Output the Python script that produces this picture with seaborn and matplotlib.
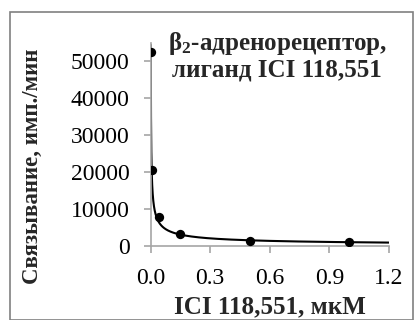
import numpy as np
import pandas as pd
import seaborn as sns
import matplotlib.pyplot as plt
from matplotlib.patches import Rectangle

# ******************
# data
# ******************
conc_um = [0.001, 0.005, 0.04, 0.15, 0.5, 1.0]
binding = [52500, 20500, 7900, 3150, 1400, 1050]

x_ticks = [0.0, 0.3, 0.6, 0.9, 1.2]
y_ticks = [0, 10000, 20000, 30000, 40000, 50000]

points = pd.DataFrame({'conc': conc_um, 'binding': binding})

# power trendline fitted to the points (as excel would draw it)
b, log_a = np.polyfit(np.log(points.conc), np.log(points.binding), 1)
x_fit = np.geomspace(points.conc.min(), 1.2, 400)
fit = pd.DataFrame({'conc': x_fit, 'binding': np.exp(log_a) * x_fit ** b})

# ******************
# plot
# ******************
sns.set_theme(style="white")
plt.rcParams['font.family'] = ['Liberation Serif', 'DejaVu Serif']
plt.rcParams['mathtext.default'] = 'regular'

fig = plt.figure(figsize=(4.16, 3.2), dpi=100)
ax = fig.add_axes([0.362, 0.231, 0.573, 0.636])

sns.lineplot(x='conc', y='binding', data=fit, color='black', linewidth=1.5, ax=ax)
sns.scatterplot(x='conc', y='binding', data=points, color='black', s=45,
                edgecolor='black', linewidth=0, zorder=3, ax=ax)

ax.set_xlim(0, 1.2)
ax.set_ylim(0, 55000)
ax.set_xticks(x_ticks)
ax.set_xticklabels([f'{t:.1f}' for t in x_ticks])
ax.set_yticks(y_ticks)
ax.set_yticklabels([str(t) for t in y_ticks])

for side in ['top', 'right']:
    ax.spines[side].set_visible(False)
for side in ['left', 'bottom']:
    ax.spines[side].set_color('#a6a6a6')
    ax.spines[side].set_linewidth(1.2)

ax.tick_params(axis='both', direction='out', length=5, width=1.2,
               color='#a6a6a6', labelsize=17, labelcolor='black')
ax.tick_params(axis='x', pad=11)
ax.tick_params(axis='y', pad=10)
ax.tick_params(left=True, bottom=True)

ax.set_xlabel('ICI 118,551, мкМ', fontsize=18, fontweight='bold', labelpad=4)
ax.set_ylabel('Связывание, имп./мин', fontsize=16.5, fontweight='bold')
ax.yaxis.set_label_coords(-0.452, 0.39)

ax.text(0.666, 1 - 30 / 320, 'β$_2$-адренорецептор,\nлиганд ICI 118,551',
        transform=fig.transFigure, ha='center', va='top',
        fontsize=18, fontweight='bold', linespacing=1.1)

# gray frame round the whole chart
fig.patches.append(Rectangle((10 / 416, 0), 403 / 416, 1 - 12 / 320,
                             transform=fig.transFigure, fill=False,
                             edgecolor='#808080', linewidth=1.2))

plt.savefig('out.png', dpi=100)
